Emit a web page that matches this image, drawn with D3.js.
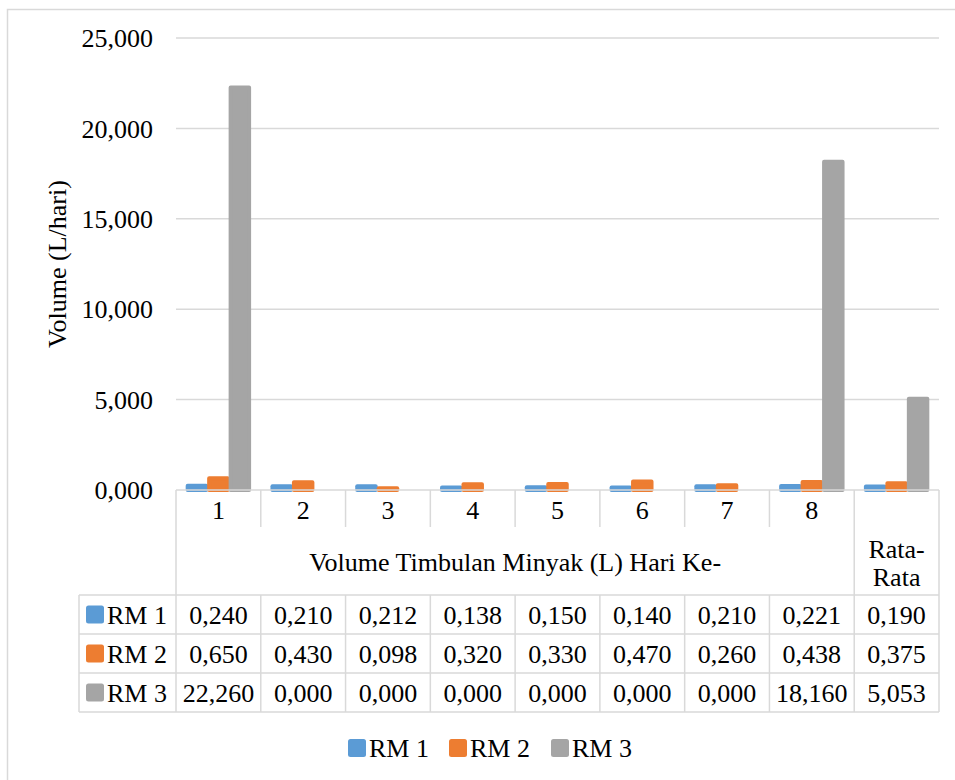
<!DOCTYPE html>
<html>
<head>
<meta charset="utf-8">
<script src="https://cdn.jsdelivr.net/npm/d3@7"></script>
</head>
<body style="margin:0">
<div id="chart"></div>
<script>
const width = 955;
const height = 780;

// data
const categories = ['1', '2', '3', '4', '5', '6', '7', '8', 'Rata-Rata']
const seriesNames = ['RM 1', 'RM 2', 'RM 3']
const rm1 = [0.240, 0.210, 0.212, 0.138, 0.150, 0.140, 0.210, 0.221, 0.190]
const rm2 = [0.650, 0.430, 0.098, 0.320, 0.330, 0.470, 0.260, 0.438, 0.375]
const rm3 = [22.260, 0, 0, 0, 0, 0, 0, 18.160, 5.053]
const yTicks = [0, 5, 10, 15, 20, 25]
const colors = {'RM 1': '#5b9bd5', 'RM 2': '#ed7d31', 'RM 3': '#a5a5a5'}
const groupLabel = 'Volume Timbulan Minyak (L) Hari Ke-'
const yTitle = 'Volume (L/hari)'

const values = {'RM 1': rm1, 'RM 2': rm2, 'RM 3': rm3}
const gridColor = '#d9d9d9'
const fs = 26
const serifFace = 'Liberation Serif, serif'

const fmt = d3.formatLocale({decimal: ',', thousands: '.', grouping: [3], currency: ['', '']}).format('.3f')

const plotLeft = 176, plotRight = 939, plotTop = 38, base = 490
const rowTops = [595, 634, 673, 712]
const tableLeft = 79

const x = d3.scaleBand().domain(categories).range([plotLeft, plotRight])
const bw = x.bandwidth()
const x1 = d3.scaleBand().domain(seriesNames).range([bw * 0.12, bw * 0.88])
const y = d3.scaleLinear().domain([0, 25]).range([base, plotTop])

const svg = d3.select('#chart').append('svg')
  .attr('width', width)
  .attr('height', height)
  .attr('font-family', serifFace)

svg.append('rect').attr('width', width).attr('height', height).attr('fill', '#fff')

// every label gets the same font
function label(sel) {
  return sel.attr('font-family', serifFace).attr('font-size', fs).attr('fill', '#000')
}

// outer chart border (only top/left fall inside the picture)
svg.append('rect')
  .attr('x', 7.5).attr('y', 9.5)
  .attr('width', 1000).attr('height', 1000)
  .attr('fill', 'none').attr('stroke', gridColor).attr('stroke-width', 1.5)

// gridlines
svg.append('g').selectAll('line')
  .data(yTicks.filter(d => d > 0))
  .enter().append('line')
    .attr('x1', plotLeft).attr('x2', plotRight)
    .attr('y1', d => y(d)).attr('y2', d => y(d))
    .attr('stroke', gridColor).attr('stroke-width', 1.5)

// y tick labels
svg.append('g').selectAll('text')
  .data(yTicks)
  .enter().append('text')
    .attr('x', 153)
    .attr('y', d => y(d))
    .attr('dy', '0.35em')
    .attr('text-anchor', 'end')
    .call(label)
    .text(d => fmt(d))

// y title
svg.append('text')
  .attr('transform', `translate(66,${(plotTop + base) / 2}) rotate(-90)`)
  .attr('text-anchor', 'middle')
  .call(label)
  .text(yTitle)

// bars
const rows = categories.map((c, i) => ({cat: c, vals: seriesNames.map(s => ({s: s, v: values[s][i]}))}))
const groups = svg.append('g').selectAll('g')
  .data(rows)
  .enter().append('g')
    .attr('transform', d => `translate(${x(d.cat)},0)`)
groups.selectAll('rect')
  .data(d => d.vals)
  .enter().append('rect')
    .attr('x', d => x1(d.s) + 1.5)
    .attr('width', x1.bandwidth() - 3)
    .attr('y', d => y(d.v))
    .attr('height', d => y(0) - y(d.v))
    .attr('fill', d => colors[d.s])
    .attr('stroke', d => colors[d.s])
    .attr('stroke-width', d => d.v > 0 ? 4 : 0)
    .attr('stroke-linejoin', 'round')

// axis line / table top
const grid = svg.append('g').attr('stroke', gridColor).attr('stroke-width', 1.5)
grid.append('line').attr('x1', plotLeft).attr('x2', plotRight).attr('y1', base).attr('y2', base)

// vertical separators
const bounds = categories.map(c => x(c)).concat([plotRight])
bounds.forEach((bx, i) => {
  const full = i === 0 || i >= categories.length - 1
  if (full) {
    grid.append('line').attr('x1', bx).attr('x2', bx).attr('y1', base).attr('y2', rowTops[3])
  } else {
    grid.append('line').attr('x1', bx).attr('x2', bx).attr('y1', base).attr('y2', 527)
    grid.append('line').attr('x1', bx).attr('x2', bx).attr('y1', rowTops[0]).attr('y2', rowTops[3])
  }
})
rowTops.forEach(ry => {
  grid.append('line').attr('x1', tableLeft).attr('x2', plotRight).attr('y1', ry).attr('y2', ry)
})
grid.append('line').attr('x1', tableLeft).attr('x2', tableLeft).attr('y1', rowTops[0]).attr('y2', rowTops[3])

// category labels
svg.append('g').selectAll('text')
  .data(categories.slice(0, 8))
  .enter().append('text')
    .attr('x', d => x(d) + bw / 2)
    .attr('y', 510)
    .attr('dy', '0.35em')
    .attr('text-anchor', 'middle')
    .call(label)
    .text(d => d)

svg.append('text')
  .attr('x', (x('1') + x('Rata-Rata')) / 2)
  .attr('y', 562)
  .attr('dy', '0.35em')
  .attr('text-anchor', 'middle')
  .call(label)
  .text(groupLabel)

const rataX = x('Rata-Rata') + bw / 2
svg.append('text').attr('x', rataX).attr('y', 549).attr('dy', '0.35em')
  .attr('text-anchor', 'middle').call(label).text('Rata-')
svg.append('text').attr('x', rataX).attr('y', 577).attr('dy', '0.35em')
  .attr('text-anchor', 'middle').call(label).text('Rata')

// table rows
seriesNames.forEach((s, r) => {
  const cy = (rowTops[r] + rowTops[r + 1]) / 2
  svg.append('rect')
    .attr('x', 86).attr('y', cy - 9)
    .attr('width', 18).attr('height', 18)
    .attr('rx', 2.5)
    .attr('fill', colors[s])
  svg.append('text')
    .attr('x', 107).attr('y', cy).attr('dy', '0.35em')
    .call(label)
    .text(s)
  svg.append('g').selectAll('text')
    .data(values[s])
    .enter().append('text')
      .attr('x', (d, i) => x(categories[i]) + bw / 2)
      .attr('y', cy)
      .attr('dy', '0.35em')
      .attr('text-anchor', 'middle')
      .call(label)
      .text(d => fmt(d))
})

// legend
const legendX = [348, 449, 551]
const legend = svg.append('g').selectAll('g')
  .data(seriesNames)
  .enter().append('g')
    .attr('transform', (d, i) => `translate(${legendX[i]},748)`)
legend.append('rect')
  .attr('x', 0).attr('y', -9)
  .attr('width', 18).attr('height', 18)
  .attr('rx', 2.5)
  .attr('fill', d => colors[d])
legend.append('text')
  .attr('x', 21).attr('dy', '0.35em')
  .call(label)
  .text(d => d)
</script>
</body>
</html>
